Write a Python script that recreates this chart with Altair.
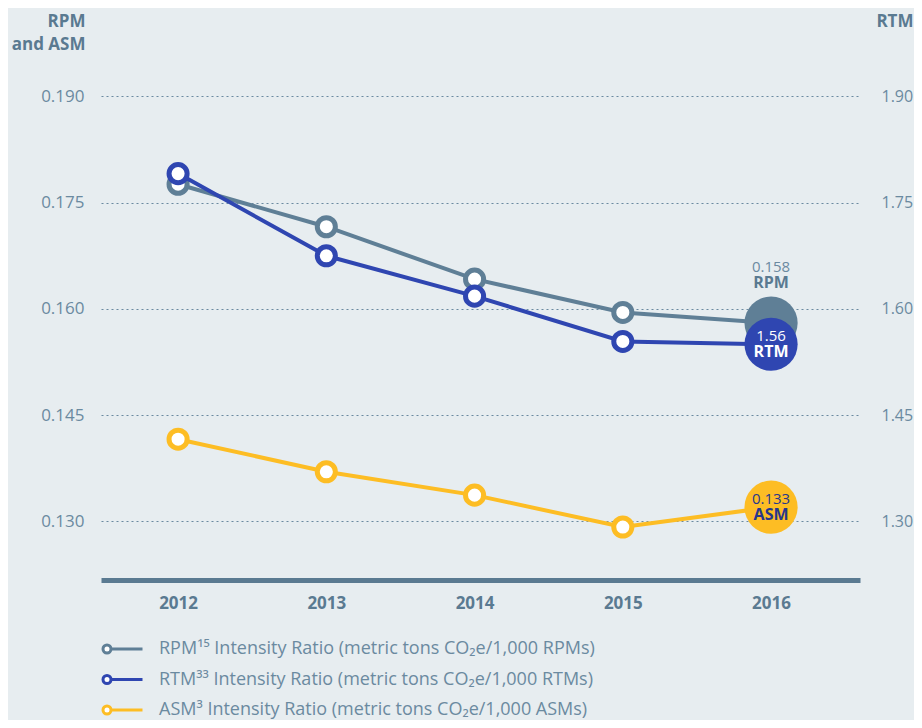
import altair as alt
import pandas as pd

# ---------------- data ----------------
years = [2012, 2013, 2014, 2015, 2016]
rpm = [0.1776, 0.1716, 0.1642, 0.1595, 0.158]
rtm = [1.791, 1.675, 1.618, 1.554, 1.55]
asm = [0.1416, 0.1370, 0.1337, 0.1292, 0.132]

series_names = [
    "RPM¹⁵ Intensity Ratio (metric tons CO₂e/1,000 RPMs)",
    "RTM³³ Intensity Ratio (metric tons CO₂e/1,000 RTMs)",
    "ASM³ Intensity Ratio (metric tons CO₂e/1,000 ASMs)",
]
short_names = ["RPM", "RTM", "ASM"]
end_labels = ["0.158", "1.56", "0.133"]
left_ticks = [0.130, 0.145, 0.160, 0.175, 0.190]
right_ticks = [1.30, 1.45, 1.60, 1.75, 1.90]

# ---------------- styles ----------------
PALETTE = ["#5f7f96", "#2f46b1", "#fdbd24"]
BG = "#e7edf0"
TITLE_C = "#5a7a91"
LABEL_C = "#6b8aa0"
FONT = "Open Sans"

cscale = alt.Scale(domain=series_names, range=PALETTE)

def frame(idx, vals):
    return pd.DataFrame({"year": years, "value": vals, "series": series_names[idx],
                         "col": PALETTE[idx]})

left_df = pd.concat([frame(0, rpm), frame(2, asm)], ignore_index=True)
right_df = frame(1, rtm)

def end_frame(idx, vals):
    return pd.DataFrame({"year": [years[-1]], "value": [vals[-1]],
                         "label": [end_labels[idx]], "name": [short_names[idx]]})

rpm_end, rtm_end, asm_end = end_frame(0, rpm), end_frame(1, rtm), end_frame(2, asm)

xscale = alt.Scale(domain=[2011.48, 2016.6], nice=False, zero=False)
x_axis = alt.Axis(values=years, format="d", grid=False, ticks=False, tickSize=0,
                  domainColor=TITLE_C, domainWidth=5, domainCap="butt", offset=2,
                  labelFont=FONT, labelFontSize=17, labelFontWeight="bold",
                  labelColor=TITLE_C, labelPadding=15, title=None)
X = alt.X("year:Q", scale=xscale, axis=x_axis)

yl_scale = alt.Scale(domain=[0.122, 0.195], nice=False, zero=False)
yr_scale = alt.Scale(domain=[1.22, 1.95], nice=False, zero=False)

yl_axis = alt.Axis(values=left_ticks, format=".3f", grid=True, gridColor=LABEL_C,
                   gridDash=[2, 3], gridWidth=1.2, domain=False, ticks=False, tickSize=0,
                   labelFont=FONT, labelFontSize=17, labelColor=LABEL_C, labelPadding=17,
                   title=["RPM", "and ASM"], titleAngle=0, titleAlign="right",
                   titleBaseline="alphabetic", titleX=-16, titleY=-35,
                   titleFont=FONT, titleFontSize=17, titleFontWeight="bold",
                   titleColor=TITLE_C, titleLineHeight=23)
yr_axis = alt.Axis(values=right_ticks, format=".2f", grid=False, domain=False,
                   ticks=False, tickSize=0, orient="right",
                   labelFont=FONT, labelFontSize=16, labelColor=LABEL_C, labelPadding=21,
                   title="RTM", titleAngle=0, titleAlign="right",
                   titleBaseline="alphabetic", titleX=53, titleY=-35,
                   titleFont=FONT, titleFontSize=17, titleFontWeight="bold",
                   titleColor=TITLE_C)

LEG_PATH = "M-0.8,0 A0.8,0.8 0 1,1 0.8,0 A0.8,0.8 0 1,1 -0.8,0 Z M0.8,0 L7.1,0"
legend = alt.Legend(orient="none", legendX=-3, legendY=579, title=None,
                    direction="vertical", symbolType=LEG_PATH, symbolSize=100,
                    symbolStrokeWidth=3, symbolFillColor="white", symbolOpacity=1,
                    labelFont=FONT, labelFontSize=18, labelColor=LABEL_C,
                    labelOffset=43, rowPadding=10.5, labelLimit=0)

YL = alt.Y("value:Q", scale=yl_scale, axis=yl_axis)
YR = alt.Y("value:Q", scale=yr_scale, axis=yr_axis)

def layer_for(df, end_dfs, Y, text_specs):
    line = alt.Chart(df).mark_line(strokeWidth=4).encode(
        x=X, y=Y, color=alt.Color("series:N", scale=cscale, legend=legend))
    pts = alt.Chart(df).transform_filter("datum.year < 2016").mark_point(
        shape="circle", filled=True, fill="white", size=327, strokeWidth=5, opacity=1
    ).encode(x=X, y=Y, stroke=alt.Stroke("col:N", scale=None))
    big = alt.Chart(df).transform_filter("datum.year == 2016").mark_circle(
        size=2827, opacity=1
    ).encode(x=X, y=Y, fill=alt.Fill("col:N", scale=None))
    layers = [line, pts, big]
    for edf, (dy1, dy2, c1, c2) in zip(end_dfs, text_specs):
        layers.append(alt.Chart(edf).mark_text(dy=dy1, fontSize=15, font=FONT, color=c1)
                      .encode(x=X, y=Y, text="label:N"))
        layers.append(alt.Chart(edf).mark_text(dy=dy2, fontSize=16, font=FONT,
                                               fontWeight="bold", color=c2)
                      .encode(x=X, y=Y, text="name:N"))
    return alt.layer(*layers)

left = layer_for(left_df, [rpm_end, asm_end], YL,
                 [(-56, -40, LABEL_C, TITLE_C), (-8, 8, "#27378c", "#27378c")])
right = layer_for(right_df, [rtm_end], YR, [(-8, 8, "white", "white")])

chart = alt.layer(left, right).resolve_scale(y="independent").properties(
    width=759, height=517,
    autosize=alt.AutoSizeParams(type="none"),
    padding={"left": 93, "top": 53, "right": 54, "bottom": 142},
    background=BG,
).configure_view(stroke=None)

chart.save("out.html", embed_options={"renderer": "svg", "actions": False})
